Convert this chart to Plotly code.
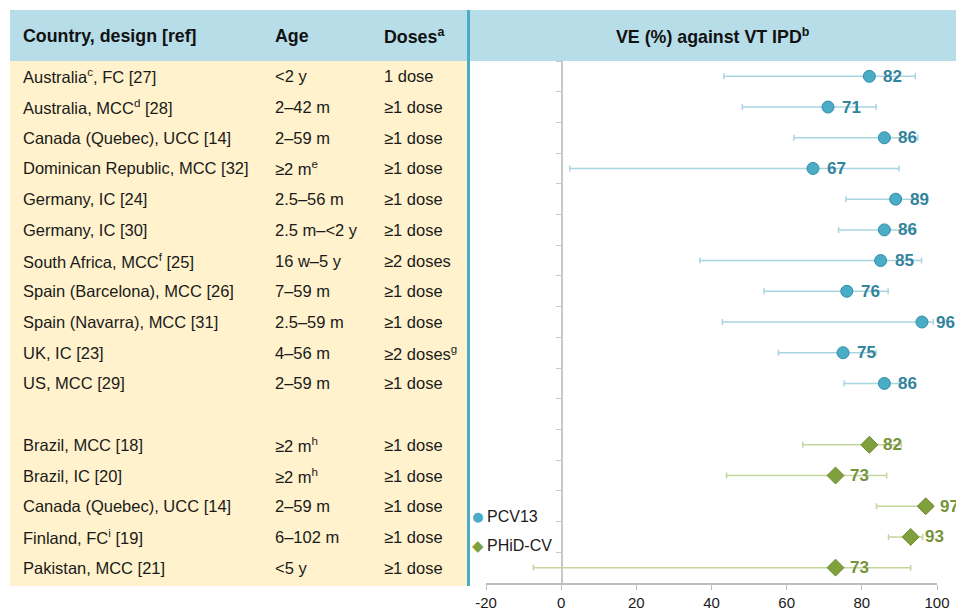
import plotly.graph_objects as go

# ---------------- data ----------------
pcv_study = ["Australia<sup>c</sup>, FC [27]", "Australia, MCC<sup>d</sup> [28]",
             "Canada (Quebec), UCC [14]", "Dominican Republic, MCC [32]",
             "Germany, IC [24]", "Germany, IC [30]", "South Africa, MCC<sup>f</sup> [25]",
             "Spain (Barcelona), MCC [26]", "Spain (Navarra), MCC [31]",
             "UK, IC [23]", "US, MCC [29]"]
pcv_age = ["<2 y", "2–42 m", "2–59 m", "≥2 m<sup>e</sup>", "2.5–56 m", "2.5 m–<2 y",
           "16 w–5 y", "7–59 m", "2.5–59 m", "4–56 m", "2–59 m"]
pcv_doses = ["1 dose", "≥1 dose", "≥1 dose", "≥1 dose", "≥1 dose", "≥1 dose",
             "≥2 doses", "≥1 dose", "≥1 dose", "≥2 doses<sup>g</sup>", "≥1 dose"]
pcv_ve = [82, 71, 86, 67, 89, 86, 85, 76, 96, 75, 86]
pcv_lo = [43.3, 48.2, 61.9, 2.3, 75.8, 73.8, 36.9, 54.0, 42.9, 57.8, 75.3]
pcv_hi = [94.2, 83.8, 94.9, 89.9, 95.0, 94.0, 95.9, 87.0, 99.0, 83.8, 90.0]

phid_study = ["Brazil, MCC [18]", "Brazil, IC [20]", "Canada (Quebec), UCC [14]",
              "Finland, FC<sup>i</sup> [19]", "Pakistan, MCC [21]"]
phid_age = ["≥2 m<sup>h</sup>", "≥2 m<sup>h</sup>", "2–59 m", "6–102 m", "<5 y"]
phid_doses = ["≥1 dose", "≥1 dose", "≥1 dose", "≥1 dose", "≥1 dose"]
phid_ve = [82, 73, 97, 93, 73]
phid_lo = [64.3, 44.0, 83.9, 87.1, -7.4]
phid_hi = [90.5, 86.6, 98.7, 96.2, 93.0]

x_ticks = [-20, 0, 20, 40, 60, 80, 100]
x_tick_labels = ["-20", "0", "20", "40", "60", "80", "100"]

headers = ["Country, design [ref]", "Age", "Doses<sup>a</sup>"]
chart_header = "VE (%) against VT IPD<sup>b</sup>"
series_names = ["PCV13", "PHiD-CV"]

# ---------------- layout helpers ----------------
W, H = 956, 612
OFF = 0  # body margin removed below, figure sits at the window origin
FONT = "Arial, Liberation Sans, sans-serif"


def px(x):
    return (x - OFF) / W


def py(y):
    return (H - (y - OFF)) / H


pcv_rows = list(range(len(pcv_ve)))
phid_rows = [len(pcv_ve) + 1 + i for i in range(len(phid_ve))]
n_rows = len(pcv_ve) + 1 + len(phid_ve)

BLUE = "#4BACC6"
BLUE_DARK = "#31849B"
BLUE_ERR = "#A9D4E2"
GREEN = "#7FA03D"
GREEN_DARK = "#77933C"
GREEN_ERR = "#C3D69B"
TEXT = "#1A1A1A"

fig = go.Figure()

fig.add_trace(go.Scatter(
    x=pcv_ve, y=pcv_rows, mode="markers", name=series_names[0],
    marker=dict(symbol="circle", size=12, color=BLUE, line=dict(color="#2F8FAA", width=1)),
    error_x=dict(type="data", symmetric=False,
                 array=[h - v for h, v in zip(pcv_hi, pcv_ve)],
                 arrayminus=[v - l for l, v in zip(pcv_lo, pcv_ve)],
                 color=BLUE_ERR, thickness=1.5, width=3),
    showlegend=False, cliponaxis=False,
))
fig.add_trace(go.Scatter(
    x=phid_ve, y=phid_rows, mode="markers", name=series_names[1],
    marker=dict(symbol="diamond", size=13, color=GREEN, line=dict(color="#6A8A2E", width=1)),
    error_x=dict(type="data", symmetric=False,
                 array=[h - v for h, v in zip(phid_hi, phid_ve)],
                 arrayminus=[v - l for l, v in zip(phid_lo, phid_ve)],
                 color=GREEN_ERR, thickness=1.5, width=3),
    showlegend=False, cliponaxis=False,
))

shapes = [
    dict(type="rect", xref="paper", yref="paper", x0=px(10), x1=px(467), y0=py(586), y1=py(61),
         fillcolor="#FFF2CC", line=dict(width=0), layer="below"),
    dict(type="rect", xref="paper", yref="paper", x0=px(10), x1=px(956), y0=py(61), y1=py(10),
         fillcolor="#B7DDE8", line=dict(width=0), layer="below"),
    dict(type="rect", xref="paper", yref="paper", x0=px(467), x1=px(470), y0=py(586), y1=py(10),
         fillcolor=BLUE, line=dict(width=0), layer="above"),
]

annotations = []
col_x = [21, 273, 382]
for hx, htxt in zip(col_x, headers):
    annotations.append(dict(xref="paper", yref="paper", x=px(hx), y=py(36), text=htxt,
                            showarrow=False, xanchor="left", yanchor="middle",
                            font=dict(family=FONT, size=17.8, color="#111111", weight="bold")))
annotations.append(dict(xref="paper", yref="paper", x=px(713), y=py(36), text=chart_header,
                        showarrow=False, xanchor="center", yanchor="middle",
                        font=dict(family=FONT, size=17.8, color="#111111", weight="bold")))

for rows, st, ag, do in [(pcv_rows, pcv_study, pcv_age, pcv_doses),
                         (phid_rows, phid_study, phid_age, phid_doses)]:
    for r, s, a, d in zip(rows, st, ag, do):
        for cx, t in zip(col_x, [s, a, d]):
            annotations.append(dict(xref="paper", yref="y", x=px(cx), y=r, text=t,
                                    showarrow=False, xanchor="left", yanchor="middle",
                                    font=dict(family=FONT, size=16.5, color=TEXT)))

# value labels next to the markers
for rows, vals, col in [(pcv_rows, pcv_ve, BLUE_DARK), (phid_rows, phid_ve, GREEN_DARK)]:
    for r, v in zip(rows, vals):
        annotations.append(dict(xref="x", yref="y", x=v, y=r, text=str(v), showarrow=False,
                                xanchor="left", yanchor="middle", xshift=12,
                                font=dict(family=FONT, size=17, color=col, weight="bold")))

# legend (inside plot, lower left)
annotations += [
    dict(xref="paper", yref="paper", x=px(478), y=py(516), text="●", showarrow=False,
         xanchor="center", yanchor="middle", font=dict(family=FONT, size=23, color=BLUE)),
    dict(xref="paper", yref="paper", x=px(485), y=py(516), text=series_names[0], showarrow=False,
         xanchor="left", yanchor="middle", font=dict(family=FONT, size=16, color=TEXT)),
    dict(xref="paper", yref="paper", x=px(478), y=py(545), text="◆", showarrow=False,
         xanchor="center", yanchor="middle", font=dict(family=FONT, size=15, color=GREEN)),
    dict(xref="paper", yref="paper", x=px(485), y=py(545), text=series_names[1], showarrow=False,
         xanchor="left", yanchor="middle", font=dict(family=FONT, size=16, color=TEXT)),
]

fig.update_layout(
    width=W, height=H,
    margin=dict(l=0, r=0, t=0, b=0),
    paper_bgcolor="white", plot_bgcolor="white",
    showlegend=False,
    shapes=shapes, annotations=annotations,
    xaxis=dict(domain=[px(486), px(937)], range=[-20, 100],
               tickvals=x_ticks, ticktext=x_tick_labels,
               showgrid=False, zeroline=False,
               showline=True, linecolor="#BFBFBF", linewidth=1.5,
               ticks="outside", ticklen=5, tickcolor="#BFBFBF",
               tickfont=dict(family=FONT, size=15, color=TEXT),
               automargin=False, fixedrange=True),
    yaxis=dict(domain=[py(583), py(61)], range=[n_rows - 0.5, -0.5],
               anchor="free", position=px(562),
               tickvals=[k - 0.5 for k in range(n_rows)],
               showticklabels=False, showgrid=False, zeroline=False,
               showline=True, linecolor="#C8C8C8", linewidth=2,
               ticks="outside", ticklen=5, tickcolor="#C8C8C8",
               automargin=False, fixedrange=True),
)

fig.write_html("out.html", config={"displayModeBar": False},
               post_script="document.body.style.margin='0';document.body.style.overflow='hidden';")
